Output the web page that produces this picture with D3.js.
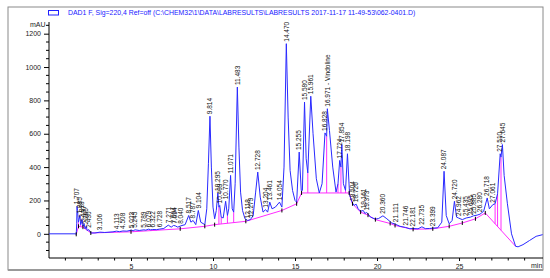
<!DOCTYPE html>
<head>
<meta charset="utf-8">
<style>
body { margin: 0; background: #fff; }
svg { display: block; font-family: Arial, "Liberation Sans", sans-serif; }
.tick-label { font-size: 7px; fill: #222; }
.pk { font-size: 6.5px; fill: #111; }
</style>
</head>
<body>
<script src="https://cdn.jsdelivr.net/npm/d3@7"></script>
<script type="text/javascript">

var width = 550;
var height = 278;

var title = "DAD1 F, Sig=220,4 Ref=off (C:\\CHEM32\\1\\DATA\\LABRESULTS\\LABRESULTS 2017-11-17 11-49-53\\062-0401.D)";

// signal trace, [min, mAU]
var trace = [
  [0,0],[1.60,0],[1.66,-3],[1.69,60],[1.707,165],[1.74,140],[1.79,70],[1.83,85],[1.885,110],[1.93,55],
  [1.97,65],[2.018,85],[2.07,45],[2.137,60],[2.2,30],[2.265,45],[2.33,20],[2.43,25],[2.55,5],[2.8,5],
  [3.106,10],[3.4,8],[3.9,12],[4.113,16],[4.3,13],[4.508,17],[4.75,16],[5.023,22],[5.13,18],[5.245,24],
  [5.5,20],[5.789,24],[5.9,22],[6.079,28],[6.2,24],[6.322,26],[6.55,25],[6.728,28],[7.0,32],[7.271,52],
  [7.45,40],[7.594,50],[7.694,48],[7.85,40],[8.040,48],[8.3,55],[8.517,110],[8.65,70],[8.787,80],[8.95,55],
  [9.104,140],[9.25,70],[9.5,55],[9.62,150],[9.72,420],[9.814,705],[9.9,400],[10.0,160],[10.1,90],[10.2,140],[10.295,245],[10.36,160],
  [10.409,170],[10.5,100],[10.62,95],[10.770,195],[10.88,110],[10.96,150],[11.071,350],[11.17,150],[11.26,130],[11.35,300],
  [11.483,880],[11.58,520],[11.68,250],[11.8,140],[11.95,90],[12.118,80],[12.279,85],[12.45,110],[12.6,250],[12.728,370],[12.88,220],
  [13.05,130],[13.204,145],[13.33,130],[13.461,190],[13.6,150],[13.8,160],[14.054,190],[14.2,160],[14.33,400],[14.470,1140],
  [14.58,700],[14.7,380],[14.85,260],[15.0,200],[15.1,190],[15.255,490],[15.38,260],[15.45,260],[15.580,790],[15.68,450],[15.78,365],
  [15.961,825],[16.1,600],[16.3,330],[16.48,245],[16.65,300],[16.828,605],[16.93,585],[16.971,750],[17.1,620],[17.3,400],
  [17.5,250],[17.62,300],[17.724,440],[17.8,400],[17.854,535],[17.95,300],[18.08,260],[18.198,480],[18.33,230],[18.504,185],
  [18.6,170],[18.726,178],[18.85,150],[19.0,135],[19.161,140],[19.26,122],[19.373,128],[19.6,100],[19.9,88],[20.1,92],
  [20.360,108],[20.6,90],[20.9,65],[21.111,58],[21.4,45],[21.746,38],[22.0,30],[22.181,32],[22.5,30],[22.735,42],
  [22.95,31],[23.2,32],[23.399,34],[23.7,36],[23.95,70],[24.087,375],[24.22,110],[24.4,60],[24.58,80],[24.720,195],
  [24.85,100],[24.962,95],[25.2,85],[25.435,95],[25.695,100],[25.885,108],[26.1,112],[26.280,118],[26.5,135],[26.718,215],
  [26.85,150],[27.061,175],[27.2,180],[27.35,240],[27.510,480],[27.56,460],[27.645,535],[27.75,350],[27.95,180],[28.2,0],
  [28.45,-75],[28.6,-78],[28.9,-65],[29.3,-40],[29.7,-15],[30.1,-5]
];

// integration baseline
var baseline = [
  [1.66,-3],[1.80,45],[2.07,40],[2.55,5],[5.0,12],[8.0,30],[9.5,45],[10.1,55],[12.0,75],[14.2,140],
  [15.1,180],[15.4,245],[18.3,245],[18.504,180],[19.0,130],[19.45,112],[19.9,85],[20.8,62],[21.1,50],[22.2,27],
  [23.4,30],[24.4,45],[25.2,65],[26.0,90],[26.6,125],[28.45,-75]
];

var dropLines = [1.79, 1.93, 2.07, 2.2, 2.33, 10.36, 10.5, 10.88, 11.26, 15.78, 16.93, 17.62, 17.8, 18.08, 27.2, 27.35, 27.56];

var peakRT = [1.707,1.885,2.018,2.137,2.265,2.430,3.106,4.113,4.508,5.023,5.245,5.789,6.079,6.322,6.728,
  7.271,7.594,7.694,8.040,8.517,8.787,9.104,9.814,10.295,10.409,10.770,11.071,11.483,12.118,12.279,12.728,
  13.204,13.461,14.054,14.470,15.255,15.580,15.961,16.828,16.971,17.724,17.854,18.198,18.504,18.726,19.161,
  19.373,20.360,21.111,21.746,22.181,22.735,23.399,24.087,24.720,24.962,25.435,25.695,25.885,26.280,26.718,
  27.061,27.510,27.645];
var peakName = {"16.971": "Vindoline"};

var xTicks = [5, 10, 15, 20, 25];
var yTicks = [0, 200, 400, 600, 800, 1000, 1200];

var x = d3.scaleLinear().domain([0, 30.12]).range([49, 543]);
var y = d3.scaleLinear().domain([-145, 1270]).range([258, 22]);

var svg = d3.select("body").append("svg")
  .attr("width", width)
  .attr("height", height);

// outer frame
svg.append("rect").attr("x", 8).attr("y", 7).attr("width", 535).attr("height", 263)
  .style("fill", "none").style("stroke", "#8a8a8a").style("stroke-width", 1);
svg.append("line").attr("x1", 8).attr("x2", 543).attr("y1", 270).attr("y2", 270)
  .style("stroke", "#999").style("stroke-width", 2);

// legend + title
svg.append("rect").attr("x", 48.5).attr("y", 10.5).attr("width", 10).attr("height", 4.5)
  .style("fill", "none").style("stroke", "#2020ff").style("stroke-width", 1);
svg.append("text").attr("x", 68).attr("y", 14.8).text(title)
  .style("font-size", "6.9px").style("fill", "#2020ff");

// axes
var yAxis = d3.axisLeft(y).tickValues(yTicks).tickSize(5).tickFormat(d3.format("d"));
var gy = svg.append("g").attr("transform", "translate(49,0)").call(yAxis);
var xAxis = d3.axisBottom(x).tickValues(xTicks).tickSize(3).tickFormat(d3.format("d"));
var gx = svg.append("g").attr("transform", "translate(0,258)").call(xAxis);
[gx, gy].forEach(function(g){
  g.select(".domain").style("stroke", "#000").style("stroke-width", 1);
  g.selectAll(".tick line").style("stroke", "#000");
  g.selectAll("text").attr("class", "tick-label").style("font-size", "7px");
});
gy.select(".domain").attr("d", "M0,22V258");
gx.select(".domain").attr("d", "M49,0H543");
gx.selectAll("text").attr("dy", null).attr("y", 10.5);
gy.selectAll("text").attr("x", -8);

// minor ticks
svg.append("g").selectAll("line").data(d3.range(-100, 1270, 50).filter(function(d){ return d % 200 != 0; }))
  .enter().append("line")
  .attr("x1", 46).attr("x2", 49).attr("y1", function(d){ return y(d); }).attr("y2", function(d){ return y(d); })
  .style("stroke", "#000");
svg.append("g").selectAll("line").data(d3.range(1, 31, 1).filter(function(d){ return d % 5 != 0; }))
  .enter().append("line")
  .attr("y1", 258).attr("y2", 260.5).attr("x1", function(d){ return x(d); }).attr("x2", function(d){ return x(d); })
  .style("stroke", "#000");

svg.append("text").attr("class", "tick-label").attr("x", 30).attr("y", 27).text("mAU");
svg.append("text").attr("class", "tick-label").attr("x", 531).attr("y", 268).text("min");

function lookup(arr, t) {
  for (var i = 1; i < arr.length; i++) {
    if (arr[i][0] >= t) {
      var a = arr[i-1], b = arr[i];
      return a[1] + (b[1]-a[1]) * (t-a[0]) / (b[0]-a[0]);
    }
  }
  return arr[arr.length-1][1];
}

var line = d3.line().x(function(d){ return x(d[0]); }).y(function(d){ return y(d[1]); });

// baseline + drops
svg.append("path").attr("d", line(baseline))
  .style("fill", "none").style("stroke", "#ff2cff").style("stroke-width", 1);
svg.append("g").selectAll("line").data(dropLines).enter().append("line")
  .attr("x1", function(d){ return x(d); }).attr("x2", function(d){ return x(d); })
  .attr("y1", function(d){ return y(lookup(baseline, d)); })
  .attr("y2", function(d){ return y(lookup(trace, d)); })
  .style("stroke", "#ff2cff").style("stroke-width", 1);

// trace
svg.append("path").attr("d", line(trace))
  .style("fill", "none").style("stroke", "#2a2aff").style("stroke-width", 1);

// start/end markers
svg.append("g").selectAll("line").data(baseline.slice(0, -1)).enter().append("line")
  .attr("x1", function(d){ return x(d[0]); }).attr("x2", function(d){ return x(d[0]); })
  .attr("y1", function(d){ return y(d[1]) - 2; }).attr("y2", function(d){ return y(d[1]) + 2; })
  .style("stroke", "#000").style("stroke-width", 1);

// peak labels
svg.append("g").selectAll("text").data(peakRT).enter().append("text")
  .attr("class", "pk")
  .attr("transform", function(d){
    return "translate(" + x(d) + "," + (y(lookup(trace, d)) - 2) + ") rotate(-90)";
  })
  .attr("dy", "0.35em")
  .text(function(d){
    var s = d.toFixed(3);
    return peakName[s] ? s + " -  " + peakName[s] : s;
  });

</script>
</body>
